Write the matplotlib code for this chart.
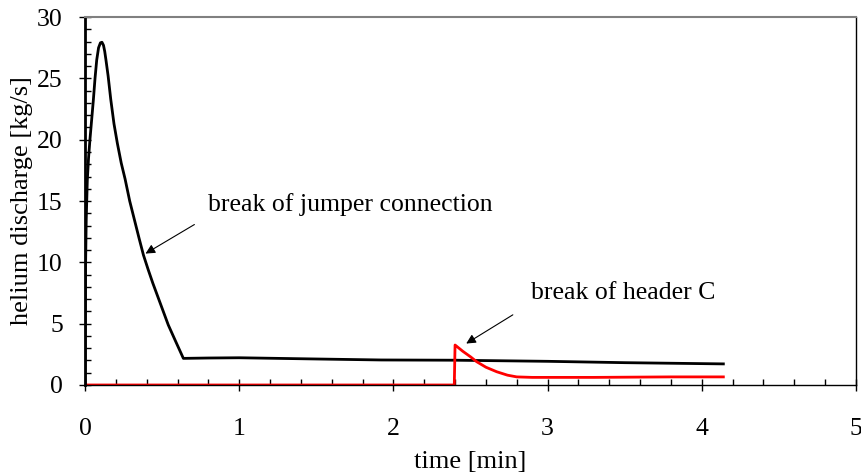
import numpy as np
import matplotlib.pyplot as plt
from matplotlib.ticker import MultipleLocator

# jumper connection break (black)
t_jumper = [0.0, 0.003, 0.008, 0.015, 0.023, 0.032, 0.043, 0.054, 0.065, 0.076, 0.088,
            0.1, 0.11, 0.12, 0.128, 0.136, 0.15, 0.167, 0.188, 0.21, 0.235, 0.26,
            0.29, 0.32, 0.35, 0.379, 0.41, 0.44, 0.49, 0.54, 0.59, 0.638, 0.8, 1.0,
            1.5, 1.92, 2.4, 3.0, 3.5, 4.14]
q_jumper = [0.0, 9.0, 13.5, 16.7, 18.5, 20.0, 21.6, 23.2, 25.0, 26.5, 27.5,
            27.9, 27.95, 27.7, 27.2, 26.5, 25.2, 23.3, 21.3, 19.7, 18.1, 16.8,
            15.0, 13.5, 12.0, 10.6, 9.4, 8.3, 6.6, 4.9, 3.5, 2.17, 2.2, 2.22,
            2.12, 2.04, 2.02, 1.93, 1.82, 1.72]

# header C break (red)
t_header = [0.0, 2.395, 2.40, 2.45, 2.50, 2.54, 2.60, 2.67, 2.74, 2.80, 2.9, 3.3, 3.8, 4.14]
q_header = [0.0, 0.0, 3.26, 2.75, 2.3, 1.9, 1.45, 1.08, 0.8, 0.66, 0.62, 0.62, 0.66, 0.66]

plt.rcParams['font.family'] = ['Liberation Serif', 'DejaVu Serif']

fig = plt.figure(figsize=(8.62, 4.75), dpi=100)
ax = fig.add_axes([0.0986, 0.1895, 0.8944, 0.7745])

ax.plot(t_jumper, q_jumper, color='black', lw=2.0)
ax.plot(t_header, q_header, color='red', lw=2.0)

ax.set_xlim(0, 5)
ax.set_ylim(0, 30)
ax.xaxis.set_major_locator(MultipleLocator(1))
ax.xaxis.set_minor_locator(MultipleLocator(0.2))
ax.yaxis.set_major_locator(MultipleLocator(5))
ax.yaxis.set_minor_locator(MultipleLocator(1))
ax.tick_params(which='major', direction='inout', length=8, width=1, labelsize=18.5, pad=12)
ax.tick_params(axis='x', which='major', pad=20)
ax.tick_params(which='minor', direction='in', length=4, width=1)

ax.spines['left'].set_linewidth(2.0)
ax.spines['bottom'].set_linewidth(1.0)
ax.spines['right'].set_linewidth(1.0)
ax.spines['top'].set_linewidth(1.5)
ax.spines['top'].set_color('#808080')

ax.set_xlabel('time [min]', fontsize=19, labelpad=8)
ax.set_ylabel('helium discharge [kg/s]', fontsize=19, labelpad=3)

arrow = dict(arrowstyle='-|>', color='black', lw=0.8, mutation_scale=14)
ax.annotate('', xy=(0.377, 10.6), xytext=(0.725, 13.2), arrowprops=arrow)
ax.text(0.795, 14.7, 'break of jumper connection', fontsize=18.5, va='center', ha='left')
ax.annotate('', xy=(2.457, 3.26), xytext=(2.79, 5.84), arrowprops=arrow)
ax.text(2.89, 7.5, 'break of header C', fontsize=18.5, va='center', ha='left')

plt.savefig('out.png', dpi=100)
